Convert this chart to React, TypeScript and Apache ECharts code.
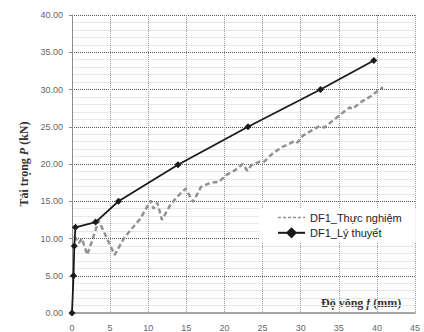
import React, { useEffect, useRef } from "react";
import * as echarts from "echarts";

const theoryX = [0, 0.2, 0.3, 0.45, 3.1, 6.1, 13.9, 23.1, 32.6, 39.6];
const theoryY = [0, 5, 9, 11.5, 12.2, 15, 19.9, 25.0, 30.0, 33.9];

const expX = [0.3, 0.9, 1.3, 2.0, 2.6, 3.5, 5.6, 6.8, 7.9, 9.0, 10.3, 10.7, 11.2, 11.8, 12.9, 13.8, 14.9, 15.9, 16.9, 18.2, 19.3, 20.2, 21.3, 22.4, 23.0, 23.5, 24.6, 25.2, 26.3, 27.6, 28.5, 29.2, 29.6, 30.3, 31.1, 32.5, 33.1, 34.2, 35.3, 36.4, 36.8, 37.9, 39.2, 40.1, 40.8];
const expY = [10.3, 9.4, 10.0, 7.8, 9.6, 12.4, 7.8, 10.0, 11.4, 12.7, 15.1, 14.0, 14.8, 12.5, 14.5, 15.6, 16.7, 14.9, 16.9, 17.5, 17.6, 18.5, 19.1, 20.0, 19.1, 19.8, 20.3, 20.3, 21.4, 22.3, 22.7, 23.1, 22.9, 23.8, 24.3, 25.1, 24.9, 25.8, 26.7, 27.6, 27.4, 28.3, 29.1, 29.8, 30.3];

const seriesNames = ["DF1_Thực nghiệm", "DF1_Lý thuyết"];

export default function App() {
  const ref = useRef<HTMLDivElement>(null);
  useEffect(() => {
    if (!ref.current) return;
    const chart = echarts.init(ref.current, null, { renderer: "svg" });
    chart.setOption({
      animation: false,
      grid: { left: 72, right: 9, top: 15, bottom: 17, containLabel: false },
      legend: {
        orient: "vertical",
        left: 259,
        top: 208,
        backgroundColor: "#ffffff",
        padding: [4, 14, 4, 18],
        itemWidth: 27,
        itemHeight: 14,
        itemGap: 4,
        textStyle: { fontFamily: "Liberation Sans, Arial, sans-serif", fontSize: 11, color: "#222" },
        data: [
          { name: seriesNames[0], itemStyle: { opacity: 0 }, lineStyle: { width: 1.5, type: [3, 2] } },
          { name: seriesNames[1], itemStyle: { color: "#1a1a1a" } },
        ],
      },
      xAxis: {
        type: "value",
        min: 0,
        max: 45,
        interval: 5,
        axisLine: { show: true, onZero: false, lineStyle: { color: "#a6a6a6", width: 2 } },
        axisTick: { show: false },
        axisLabel: { color: "#666", fontSize: 9, fontFamily: "Liberation Sans, Arial, sans-serif", margin: 10 },
        splitLine: { show: true, lineStyle: { color: "#9a9a9a", type: "dotted", width: 1 } },
      },
      yAxis: {
        type: "value",
        min: 0,
        max: 40,
        interval: 5,
        axisLine: { show: true, lineStyle: { color: "#8c8c8c", width: 1 } },
        axisTick: { show: true, length: 3, lineStyle: { color: "#8c8c8c" } },
        axisLabel: {
          color: "#666",
          fontSize: 9,
          fontFamily: "Liberation Sans, Arial, sans-serif",
          margin: 9,
          formatter: (v: number) => v.toFixed(2),
        },
        splitLine: { show: true, lineStyle: { color: "#555", type: "dotted", width: 1 } },
        minorTick: { show: false, splitNumber: 5 },
        minorSplitLine: { show: true, lineStyle: { color: "#e8e8e8", width: 1 } },
        name: "{a|Tải trọng }{i|P}{a| (kN)}",
        nameLocation: "middle",
        nameGap: 38,
        nameRotate: 90,
        nameTextStyle: {
          rich: {
            a: { fontFamily: "Liberation Serif, Times New Roman, serif", fontWeight: "bold", fontSize: 12, color: "#333" },
            i: { fontFamily: "Liberation Serif, Times New Roman, serif", fontWeight: "bold", fontStyle: "italic", fontSize: 12, color: "#333" },
          },
        },
      },
      graphic: [
        {
          type: "text",
          x: 321,
          y: 303,
          silent: true,
          style: {
            text: "{a|Độ võng }{i|f}{a| (mm)}",
            verticalAlign: "middle",
            rich: {
              a: { fontFamily: "Liberation Serif, Times New Roman, serif", fontWeight: "bold", fontSize: 12, fill: "#333" },
              i: { fontFamily: "Liberation Serif, Times New Roman, serif", fontWeight: "bold", fontStyle: "italic", fontSize: 12, fill: "#333" },
            },
          },
        },
      ],
      series: [
        {
          name: seriesNames[0],
          type: "line",
          data: expX.map((x, i) => [x, expY[i]]),
          showSymbol: false,
          symbol: "none",
          lineStyle: { color: "#929292", width: 2.5, type: [5, 3] },
          itemStyle: { color: "#929292" },
          z: 2,
        },
        {
          name: seriesNames[1],
          type: "line",
          data: theoryX.map((x, i) => [x, theoryY[i]]),
          symbol: "diamond",
          symbolSize: 7,
          lineStyle: { color: "#1a1a1a", width: 1.8 },
          itemStyle: { color: "#1a1a1a" },
          z: 3,
        },
      ],
    });
    return () => chart.dispose();
  }, []);
  return <div ref={ref} style={{ width: 424, height: 332, position: "absolute", left: 0, top: 0 }} />;
}
